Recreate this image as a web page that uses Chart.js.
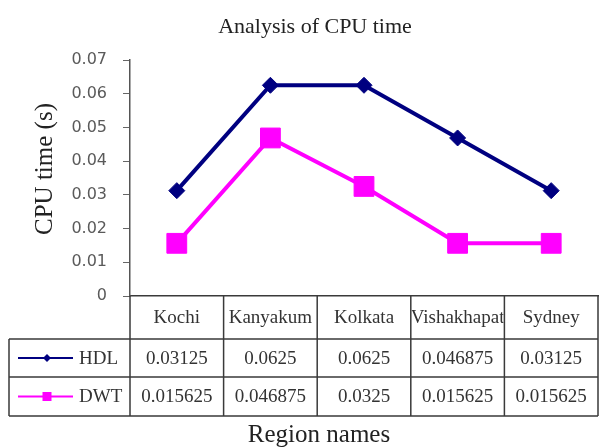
<!DOCTYPE html>
<html>
<head>
<meta charset="utf-8">
<script src="https://cdn.jsdelivr.net/npm/chart.js@4.4.1/dist/chart.umd.min.js"></script>
<style>
  html, body { margin: 0; padding: 0; background: #fff; }
</style>
</head>
<body>
<canvas id="cpuChart" width="599" height="448"></canvas>
<script>
// values
const regions = ['Kochi', 'Kanyakum', 'Kolkata', 'Vishakhapat', 'Sydney'];
const hdlTimes = [0.03125, 0.0625, 0.0625, 0.046875, 0.03125];
const dwtTimes = [0.015625, 0.046875, 0.0325, 0.015625, 0.015625];
const yTicks = ['0', '0.01', '0.02', '0.03', '0.04', '0.05', '0.06', '0.07'];

const NAVY = '#000080';
const PINK = '#ff00ff';
const serif = '"Liberation Serif", "Times New Roman", serif';

// title, axis titles and the data table under the plot
const tablePlugin = {
  id: 'dataTable',
  afterDraw(chart) {
    const ctx = chart.ctx;
    const xs = chart.scales.x;
    const area = chart.chartArea;
    const half = (xs.getPixelForValue(1) - xs.getPixelForValue(0)) / 2;
    const cols = regions.map((r, i) => xs.getPixelForValue(i) - half);
    cols.push(xs.getPixelForValue(regions.length - 1) + half);
    const right = cols[cols.length - 1];
    const rows = [area.bottom, area.bottom + 43, area.bottom + 81, area.bottom + 120];
    const tableLeft = 9;

    ctx.save();
    ctx.fillStyle = '#222';
    ctx.textAlign = 'center';
    ctx.textBaseline = 'alphabetic';
    ctx.font = '22px ' + serif;
    ctx.fillText('Analysis of CPU time', 315, 33);
    ctx.font = '25px ' + serif;
    ctx.fillText('Region names', 319, 442);
    ctx.save();
    ctx.translate(45, 169);
    ctx.rotate(-Math.PI / 2);
    ctx.textBaseline = 'middle';
    ctx.fillText('CPU time (s)', 0, 0);
    ctx.restore();

    // grid lines of the table
    ctx.strokeStyle = '#3a3a3a';
    ctx.lineWidth = 1.5;
    ctx.beginPath();
    cols.forEach(cx => { ctx.moveTo(cx, rows[0]); ctx.lineTo(cx, rows[3]); });
    ctx.moveTo(tableLeft, rows[1]); ctx.lineTo(tableLeft, rows[3]);
    for (let r = 1; r < 4; r++) { ctx.moveTo(tableLeft, rows[r]); ctx.lineTo(right, rows[r]); }
    ctx.stroke();

    function cell(text, i, r) {
      const left = cols[i], w = cols[i + 1] - cols[i];
      ctx.save();
      ctx.beginPath();
      ctx.rect(left + 1, rows[r], w - 2, rows[r + 1] - rows[r]);
      ctx.clip();
      ctx.fillText(text, left + w / 2, (rows[r] + rows[r + 1]) / 2 + 1);
      ctx.restore();
    }

    ctx.font = '19px ' + serif;
    ctx.fillStyle = '#333';
    ctx.textBaseline = 'middle';
    ctx.textAlign = 'center';
    regions.forEach((name, i) => {
      cell(name, i, 0);
      cell(String(hdlTimes[i]), i, 1);
      cell(String(dwtTimes[i]), i, 2);
    });

    // legend keys in the first column
    chart.data.datasets.forEach((ds, k) => {
      const y = (rows[k + 1] + rows[k + 2]) / 2;
      ctx.strokeStyle = ds.borderColor;
      ctx.fillStyle = ds.borderColor;
      ctx.lineWidth = 2;
      ctx.beginPath();
      ctx.moveTo(18, y); ctx.lineTo(73, y);
      ctx.stroke();
      ctx.beginPath();
      if (ds.pointStyle === 'rectRot') {
        ctx.moveTo(47 - 4, y); ctx.lineTo(47, y - 4); ctx.lineTo(47 + 4, y); ctx.lineTo(47, y + 4);
        ctx.closePath();
      } else {
        ctx.rect(47 - 4.5, y - 4.5, 9, 9);
      }
      ctx.fill();
      ctx.fillStyle = '#333';
      ctx.textAlign = 'left';
      ctx.font = '19px ' + serif;
      ctx.fillText(ds.label, 79, y + 1);
    });
    ctx.restore();
  }
};

new Chart(document.getElementById('cpuChart'), {
  type: 'line',
  data: {
    labels: regions,
    datasets: [{
      label: 'HDL',
      data: hdlTimes,
      borderColor: NAVY,
      backgroundColor: NAVY,
      borderWidth: 4,
      pointStyle: 'rectRot',
      pointRadius: 8,
      pointBorderWidth: 1
    },
    {
      label: 'DWT',
      data: dwtTimes,
      borderColor: PINK,
      backgroundColor: PINK,
      borderWidth: 4,
      pointStyle: 'rect',
      pointRadius: 14,
      pointBorderWidth: 1
    }]
  },
  options: {
    responsive: false,
    animation: false,
    layout: { autoPadding: false, padding: { top: 60, right: 1, left: 0, bottom: 0 } },
    plugins: {
      legend: { display: false },
      tooltip: { enabled: false }
    },
    scales: {
      x: {
        offset: true,
        ticks: { display: false },
        grid: { display: false },
        border: { display: true, color: '#3a3a3a', width: 1.5 },
        afterFit(scale) { scale.height = 152; }
      },
      y: {
        min: 0,
        max: 0.07,
        ticks: {
          stepSize: 0.01,
          padding: 16,
          color: '#5a5a5a',
          font: { family: 'DejaVu Sans', size: 16 },
          callback: (v, i) => yTicks[i]
        },
        grid: { drawOnChartArea: false, drawTicks: true, tickLength: 7, color: '#666' },
        border: { color: '#555', width: 1.5 },
        afterFit(scale) { scale.width = 130; }
      }
    }
  },
  plugins: [tablePlugin]
});
</script>
</body>
</html>
